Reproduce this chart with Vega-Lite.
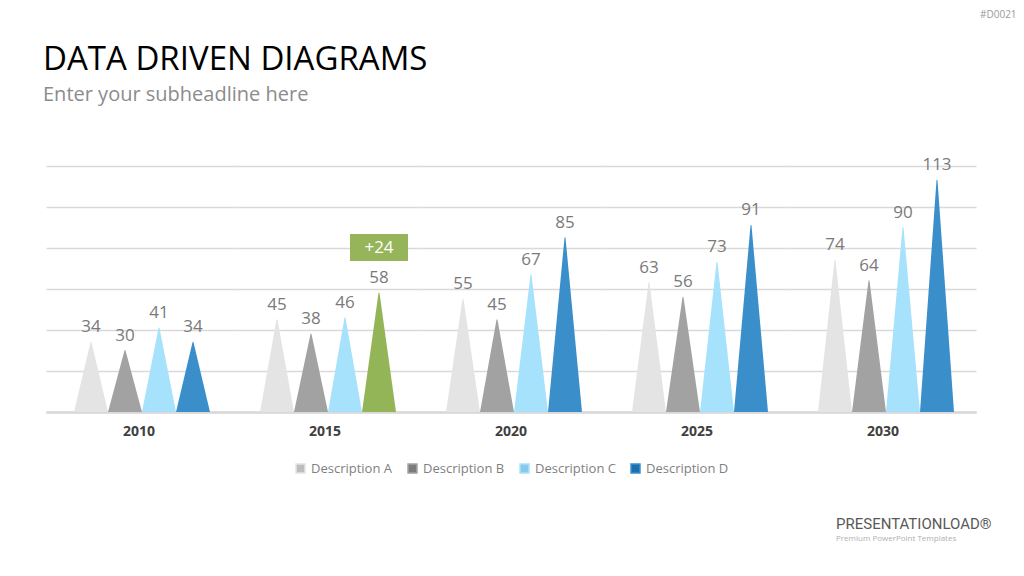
{
  "$schema": "https://vega.github.io/schema/vega-lite/v6.json",
  "background": "white",
  "padding": {"left": 43, "right": 51, "top": 10, "bottom": 0},
  "config": {
    "font": "Open Sans",
    "view": {"stroke": null},
    "title": {"fontWeight": "normal"},
    "legend": {"layout": {"bottom": {"anchor": "middle"}}}
  },
  "title": {"text": "#D0021", "anchor": "start", "fontSize": 10, "color": "#9a9a9a", "dx": 937, "offset": 24},
  "resolve": {"scale": {"color": "independent"}, "legend": {"color": "independent"}},
  "spacing": 41,
  "vconcat": [
    {
      "title": {
        "text": "DATA DRIVEN DIAGRAMS",
        "subtitle": "Enter your subheadline here",
        "anchor": "start",
        "frame": "group",
        "dx": -3,
        "fontSize": 33,
        "color": "#000000",
        "subtitleFontSize": 20,
        "subtitleColor": "#8c8c8c",
        "subtitlePadding": 8,
        "offset": 51
      },
      "data": {
        "values": [
          {"year": "2010", "series": "Description A", "value": 34},
          {"year": "2010", "series": "Description B", "value": 30},
          {"year": "2010", "series": "Description C", "value": 41},
          {"year": "2010", "series": "Description D", "value": 34},
          {"year": "2015", "series": "Description A", "value": 45},
          {"year": "2015", "series": "Description B", "value": 38},
          {"year": "2015", "series": "Description C", "value": 46},
          {"year": "2015", "series": "Description D", "value": 58, "highlight": "+24"},
          {"year": "2020", "series": "Description A", "value": 55},
          {"year": "2020", "series": "Description B", "value": 45},
          {"year": "2020", "series": "Description C", "value": 67},
          {"year": "2020", "series": "Description D", "value": 85},
          {"year": "2025", "series": "Description A", "value": 63},
          {"year": "2025", "series": "Description B", "value": 56},
          {"year": "2025", "series": "Description C", "value": 73},
          {"year": "2025", "series": "Description D", "value": 91},
          {"year": "2030", "series": "Description A", "value": 74},
          {"year": "2030", "series": "Description B", "value": 64},
          {"year": "2030", "series": "Description C", "value": 90},
          {"year": "2030", "series": "Description D", "value": 113}
        ]
      },
      "facet": {
        "column": {
          "field": "year",
          "type": "ordinal",
          "header": {
            "title": null,
            "labelOrient": "bottom",
            "labelFontSize": 14,
            "labelFontWeight": "bold",
            "labelColor": "#404040",
            "labelPadding": 13
          }
        }
      },
      "spacing": 0,
      "spec": {
        "width": 186,
        "height": 246,
        "layer": [
          {
            "transform": [
              {"fold": ["value"], "as": ["part", "amount"]},
              {"impute": "amount", "key": "part", "keyvals": ["value", "base"], "groupby": ["year", "series", "highlight"], "value": 0}
            ],
            "mark": {"type": "trail", "clip": true},
            "encoding": {
              "x": {
                "field": "series",
                "type": "nominal",
                "bandPosition": 0.5,
                "scale": {"type": "band", "paddingInner": 0, "paddingOuter": 0.735, "align": 0.56},
                "axis": {"labels": false, "ticks": false, "title": null, "domainColor": "#bfbfbf", "domainWidth": 2}
              },
              "y": {
                "field": "amount",
                "type": "quantitative",
                "scale": {"domain": [0, 120], "nice": false},
                "axis": {"labels": false, "ticks": false, "domain": false, "title": null, "values": [0, 20, 40, 60, 80, 100, 120], "gridColor": "#d9d9d9", "gridWidth": 1.5}
              },
              "size": {
                "field": "part",
                "type": "ordinal",
                "scale": {"domain": ["base", "value"], "range": [34, 0]},
                "legend": null
              },
              "color": {
                "condition": {"test": "datum.highlight", "value": "#93b457"},
                "field": "series",
                "type": "nominal",
                "scale": {
                  "domain": ["Description A", "Description B", "Description C", "Description D"],
                  "range": ["#e4e4e4", "#a2a2a2", "#a6e2fb", "#3a8fcb"]
                },
                "legend": {
                  "title": null,
                  "orient": "bottom",
                  "direction": "horizontal",
                  "symbolType": "square",
                  "symbolSize": 80,
                  "labelColor": "#7f7f7f",
                  "labelFontSize": 13,
                  "columnPadding": 12,
                  "offset": 23,
                  "encode": {
                    "symbols": {
                      "update": {
                        "fill": {"signal": "datum.value === 'Description A' ? '#bdbdbd' : datum.value === 'Description B' ? '#7b7b7b' : datum.value === 'Description C' ? '#8ac8ec' : '#1a6fae'"},
                        "stroke": {"value": "transparent"}
                      }
                    }
                  }
                }
              }
            }
          },
          {
            "mark": {"type": "text", "dy": -15, "fontSize": 17, "color": "#7a7a7a"},
            "encoding": {
              "x": {"field": "series", "type": "nominal", "bandPosition": 0.5},
              "y": {"field": "value", "type": "quantitative"},
              "text": {"field": "value", "type": "quantitative"}
            }
          },
          {
            "transform": [{"filter": "datum.highlight"}],
            "mark": {"type": "bar", "width": 58, "color": "#96b55a", "yOffset": -32, "y2Offset": -59},
            "encoding": {
              "x": {"field": "series", "type": "nominal"},
              "y": {"field": "value", "type": "quantitative"},
              "y2": {"field": "value"}
            }
          },
          {
            "transform": [{"filter": "datum.highlight"}],
            "mark": {"type": "text", "dy": -45, "baseline": "middle", "fontSize": 17, "color": "white"},
            "encoding": {
              "x": {"field": "series", "type": "nominal", "bandPosition": 0.5},
              "y": {"field": "value", "type": "quantitative"},
              "text": {"field": "highlight"}
            }
          }
        ]
      }
    },
    {
      "width": 930,
      "height": 10,
      "data": {"values": [{}]},
      "mark": {"type": "text", "opacity": 0},
      "encoding": {},
      "title": {
        "text": "PRESENTATIONLOAD®",
        "subtitle": "Premium PowerPoint Templates",
        "anchor": "start",
        "dx": 790,
        "font": "Roboto",
        "fontSize": 15,
        "color": "#595959",
        "subtitleFont": "Open Sans",
        "subtitleFontSize": 8,
        "subtitleColor": "#b0b0b0",
        "subtitlePadding": 3
      }
    }
  ]
}
